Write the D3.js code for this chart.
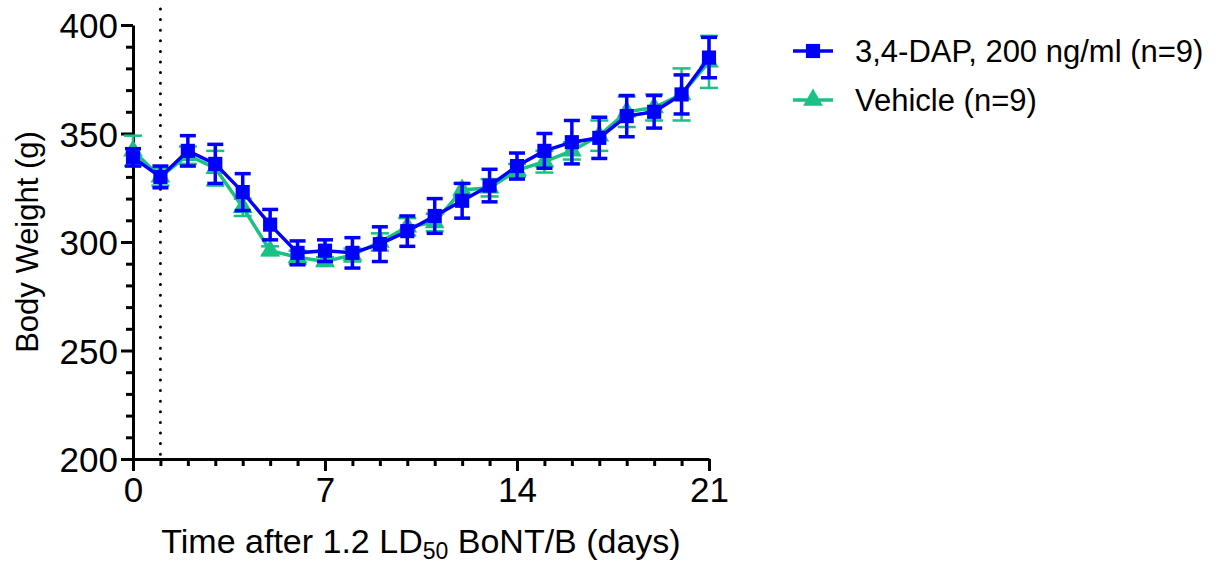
<!DOCTYPE html>
<html>
<head>
<meta charset="utf-8">
<script src="https://cdn.jsdelivr.net/npm/d3@7"></script>
<style>
  body { margin: 0; background: #fff; }
  text { font-family: "Liberation Sans", Arial, sans-serif; fill: #000; }
</style>
</head>
<body>
<div id="chart"></div>
<script>
// body weight after BoNT/B, two groups

var days = d3.range(0, 22);

var dapMean = [339, 330, 342, 336, 323, 308, 295, 296, 295, 299, 305, 312, 319, 326, 335, 342, 346, 348, 358, 360, 368, 385];
var dapErr  = [4, 5, 7, 9, 8.5, 7, 5.5, 5, 7, 8, 7, 8, 8, 7.5, 6, 8, 10, 9.5, 9.5, 7.5, 9, 9.3];

var vehMean = [342, 330, 340, 334, 316, 296, 293, 291, 294, 300, 307, 309, 324, 325, 333, 337, 342, 349, 360, 362, 368, 383];
var vehErr  = [7, 4, 4, 8, 4, 2, 3, 2, 3, 4, 4, 4, 3, 4, 3, 5, 4, 7, 7, 6, 12, 12];

var legendLabels = ["3,4-DAP, 200 ng/ml (n=9)", "Vehicle (n=9)"];
var xTicks = [0, 7, 14, 21];
var yTicks = [200, 250, 300, 350, 400];

var blue = "#0000ff";
var green = "#19c184";

var svg = d3.select("#chart")
  .append("svg")
  .attr("width", 1216)
  .attr("height", 565);

var x = d3.scaleLinear().domain([0, 21]).range([133, 709]);
var y = d3.scaleLinear().domain([200, 400]).range([459, 25]);

// dotted line at day 1
svg.append("line")
  .attr("x1", x(1)).attr("x2", x(1))
  .attr("y1", 9).attr("y2", y(200))
  .style("stroke", "#000")
  .style("stroke-width", 3)
  .style("stroke-linecap", "round")
  .style("stroke-dasharray", "0,10.6");

// y axis
var yAxis = svg.append("g")
  .attr("transform", "translate(" + x(0) + ",0)");
yAxis.call(d3.axisLeft(y).tickValues(d3.range(200, 401, 10)).tickFormat("").tickSize(7).tickSizeOuter(0));
yAxis.call(function(g) {
  g.selectAll(".tick").filter(function(d) { return yTicks.indexOf(d) >= 0; })
    .select("line").attr("x2", -12);
  g.selectAll(".tick").filter(function(d) { return yTicks.indexOf(d) >= 0; })
    .append("text")
    .attr("x", -15).attr("dy", "0.36em")
    .attr("text-anchor", "end")
    .style("font-size", "35px")
    .text(function(d) { return d; });
});

// x axis
var xAxis = svg.append("g")
  .attr("transform", "translate(0," + y(200) + ")");
xAxis.call(d3.axisBottom(x).tickValues(days).tickFormat("").tickSize(7).tickSizeOuter(0));
xAxis.call(function(g) {
  g.selectAll(".tick").filter(function(d) { return xTicks.indexOf(d) >= 0; })
    .select("line").attr("y2", 12);
  g.selectAll(".tick").filter(function(d) { return xTicks.indexOf(d) >= 0; })
    .append("text")
    .attr("y", 43)
    .attr("text-anchor", "middle")
    .style("font-size", "35px")
    .text(function(d) { return d; });
});

svg.selectAll(".domain, .tick line")
  .style("stroke", "#000")
  .style("stroke-width", 3);

// axis titles
svg.append("text")
  .attr("transform", "translate(38," + y(300) + ") rotate(-90)")
  .attr("text-anchor", "middle")
  .style("font-size", "31px")
  .text("Body Weight (g)");

var xt = svg.append("text")
  .attr("x", 421).attr("y", 553)
  .attr("text-anchor", "middle")
  .style("font-size", "34px");
xt.append("tspan").text("Time after 1.2 LD");
xt.append("tspan").attr("dy", 6).style("font-size", "23px").text("50");
xt.append("tspan").attr("dy", -6).text(" BoNT/B (days)");

// series
function series(mean, err, color, lw, ew, cap, shape, size) {
  var pts = days.map(function(d, i) { return { day: d, v: mean[i], e: err[i] }; });
  var g = svg.append("g");

  g.append("path")
    .datum(pts)
    .attr("d", d3.line().x(function(d) { return x(d.day); }).y(function(d) { return y(d.v); }))
    .style("fill", "none")
    .style("stroke", color)
    .style("stroke-width", lw);

  var eb = g.selectAll(".eb").data(pts).enter().append("g");
  eb.append("line")
    .attr("x1", function(d) { return x(d.day); })
    .attr("x2", function(d) { return x(d.day); })
    .attr("y1", function(d) { return y(d.v - d.e); })
    .attr("y2", function(d) { return y(d.v + d.e); });
  eb.append("line")
    .attr("x1", function(d) { return x(d.day) - cap; })
    .attr("x2", function(d) { return x(d.day) + cap; })
    .attr("y1", function(d) { return y(d.v + d.e); })
    .attr("y2", function(d) { return y(d.v + d.e); });
  eb.append("line")
    .attr("x1", function(d) { return x(d.day) - cap; })
    .attr("x2", function(d) { return x(d.day) + cap; })
    .attr("y1", function(d) { return y(d.v - d.e); })
    .attr("y2", function(d) { return y(d.v - d.e); });
  eb.selectAll("line").style("stroke", color).style("stroke-width", ew);

  g.selectAll(".pt").data(pts).enter().append("path")
    .attr("transform", function(d) { return "translate(" + x(d.day) + "," + y(d.v) + ")"; })
    .attr("d", d3.symbol().type(shape).size(size))
    .style("fill", color);
}

series(vehMean, vehErr, green, 3.5, 2.5, 9, d3.symbolTriangle, 170);
series(dapMean, dapErr, blue, 3.5, 3.5, 8, d3.symbolSquare, 200);

// legend
var legend = [
  { label: legendLabels[0], color: blue, shape: d3.symbolSquare, size: 200, y: 51 },
  { label: legendLabels[1], color: green, shape: d3.symbolTriangle, size: 170, y: 100 }
];
var lg = svg.selectAll(".lg").data(legend).enter().append("g")
  .attr("transform", function(d) { return "translate(0," + d.y + ")"; });
lg.append("line")
  .attr("x1", 793).attr("x2", 833)
  .style("stroke", function(d) { return d.color; })
  .style("stroke-width", 3.5);
lg.append("path")
  .attr("transform", "translate(813,0)")
  .attr("d", function(d) { return d3.symbol().type(d.shape).size(d.size)(); })
  .style("fill", function(d) { return d.color; });
lg.append("text")
  .attr("x", 855).attr("dy", "0.36em")
  .style("font-size", "31px")
  .text(function(d) { return d.label; });
</script>
</body>
</html>
